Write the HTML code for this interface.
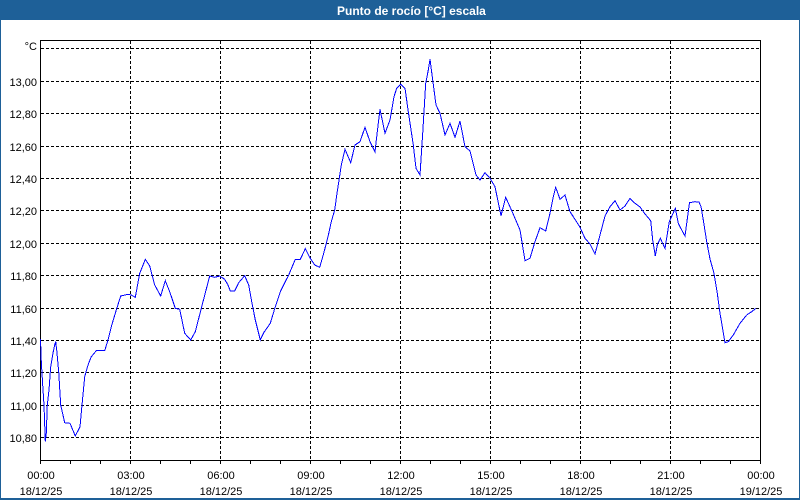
<!DOCTYPE html>
<html><head><meta charset="utf-8"><style>
html,body{margin:0;padding:0;background:#fff;}
svg{display:block;}
text{font-family:"Liberation Sans",sans-serif;font-size:11px;fill:#000;}
</style></head><body>
<svg width="800" height="500" viewBox="0 0 800 500" xmlns="http://www.w3.org/2000/svg">
<rect x="0" y="0" width="800" height="500" fill="#ffffff"/>
<rect x="0" y="0" width="800" height="20" fill="#1e6098"/>
<rect x="0" y="0" width="1" height="500" fill="#1e6098"/>
<rect x="799" y="0" width="1" height="500" fill="#1e6098"/>
<rect x="0" y="498" width="800" height="2" fill="#1e6098"/>
<text x="337" y="15" style="font-weight:bold;font-size:12px;fill:#fff">Punto de rocío [°C] escala</text>

<g stroke="#000" stroke-width="1" stroke-dasharray="3,2" fill="none" shape-rendering="crispEdges">
<line x1="41" y1="48.5" x2="760" y2="48.5"/>
<line x1="41" y1="81.5" x2="760" y2="81.5"/>
<line x1="41" y1="113.5" x2="760" y2="113.5"/>
<line x1="41" y1="146.5" x2="760" y2="146.5"/>
<line x1="41" y1="178.5" x2="760" y2="178.5"/>
<line x1="41" y1="210.5" x2="760" y2="210.5"/>
<line x1="41" y1="243.5" x2="760" y2="243.5"/>
<line x1="41" y1="275.5" x2="760" y2="275.5"/>
<line x1="41" y1="308.5" x2="760" y2="308.5"/>
<line x1="41" y1="340.5" x2="760" y2="340.5"/>
<line x1="41" y1="372.5" x2="760" y2="372.5"/>
<line x1="41" y1="405.5" x2="760" y2="405.5"/>
<line x1="41" y1="437.5" x2="760" y2="437.5"/>
<line x1="130.5" y1="41" x2="130.5" y2="460"/>
<line x1="220.5" y1="41" x2="220.5" y2="460"/>
<line x1="310.5" y1="41" x2="310.5" y2="460"/>
<line x1="400.5" y1="41" x2="400.5" y2="460"/>
<line x1="490.5" y1="41" x2="490.5" y2="460"/>
<line x1="580.5" y1="41" x2="580.5" y2="460"/>
<line x1="670.5" y1="41" x2="670.5" y2="460"/>
</g>

<g stroke="#000" stroke-width="1" fill="none" shape-rendering="crispEdges">
<path d="M40.5 40.5 H760.5 V460.5 H40.5 Z"/>
<path d="M40.5 460 v4 M70.5 460 v4 M100.5 460 v4 M130.5 460 v4 M160.5 460 v4 M190.5 460 v4 M220.5 460 v4 M250.5 460 v4 M280.5 460 v4 M310.5 460 v4 M340.5 460 v4 M370.5 460 v4 M400.5 460 v4 M430.5 460 v4 M460.5 460 v4 M490.5 460 v4 M520.5 460 v4 M550.5 460 v4 M580.5 460 v4 M610.5 460 v4 M640.5 460 v4 M670.5 460 v4 M700.5 460 v4 M730.5 460 v4 M760.5 460 v4"/>
</g>

<g text-anchor="end">
<text x="37" y="50">°C</text>
<text x="37" y="86">13,00</text>
<text x="37" y="118">12,80</text>
<text x="37" y="151">12,60</text>
<text x="37" y="183">12,40</text>
<text x="37" y="215">12,20</text>
<text x="37" y="248">12,00</text>
<text x="37" y="280">11,80</text>
<text x="37" y="313">11,60</text>
<text x="37" y="345">11,40</text>
<text x="37" y="377">11,20</text>
<text x="37" y="410">11,00</text>
<text x="37" y="442">10,80</text>
</g>

<g text-anchor="middle">
<text x="41" y="479">00:00</text><text x="41" y="495">18/12/25</text>
<text x="131" y="479">03:00</text><text x="131" y="495">18/12/25</text>
<text x="221" y="479">06:00</text><text x="221" y="495">18/12/25</text>
<text x="311" y="479">09:00</text><text x="311" y="495">18/12/25</text>
<text x="401" y="479">12:00</text><text x="401" y="495">18/12/25</text>
<text x="491" y="479">15:00</text><text x="491" y="495">18/12/25</text>
<text x="581" y="479">18:00</text><text x="581" y="495">18/12/25</text>
<text x="671" y="479">21:00</text><text x="671" y="495">18/12/25</text>
<text x="761" y="479">00:00</text><text x="761" y="495">19/12/25</text>
</g>

<polyline fill="none" stroke="#0000ff" stroke-width="1" shape-rendering="crispEdges" points="
40.5,339 41.3,361.7 42.7,385 44,405 45.3,441.7 46.3,433 47.3,405 49,390 50.7,366.7 53,353 54.7,345 55.7,341.7 56.7,350 58.7,371.7 60.7,405 64.7,422.7 70,423.3 75.3,436 80,426.7 82,405 84.7,376.7 88,365 91.3,356.7 96.3,350.7 104.7,350.7 108,340 111.3,326.7 116.3,310 120.7,296 128,294.3 131.3,295 135.3,297.3 139.7,273.3 145.3,259.3 149.7,266 154.7,285 160.7,296 165.3,280.7 169.7,291.7 175.3,308.3 179.7,309.3 184.7,333.3 190.7,340 195.3,331.7 201.3,308.3 209.7,276 214.7,277.3 219.7,276 224.7,279.3 228,285 230.3,291 234.7,291 238.7,282.7 244.7,275.7 248.7,285 252,303.3 255.3,320 260.3,340 263.7,332.7 270.3,323.3 275.3,306.7 280.3,291.7 288.7,275 295.3,259.3 300.3,259.3 305.3,248.7 309.3,256.7 314.7,265 319.7,267.3 323.7,253.3 328,236.7 331.3,221.7 334.7,210 337,193.3 339.3,178.3 341.3,165 345,149.3 350.7,162.7 355,145 360,141.7 365,127.3 370,141.7 375,151.7 377.3,131.7 380,109.3 385,133.3 390,120 394,96.7 396.7,88.3 400.7,84.3 405,88.3 408.3,111.7 413.3,145 416,168.3 420,175 422.7,133.3 425.7,83.3 428.3,70 430,59.3 432.7,80 436,105 440,113.3 445,135 450,123.3 455,137.3 460,121 465,146.7 470,151 476,175 480,180 485,172.7 490,178.3 495,186.7 501,215.7 505.7,197.3 511.7,210.7 520,230 525,260.7 530,258.3 535,241.7 540,227.7 545.7,231 550,213.3 553.3,196.7 555.7,187.3 560,199.3 565,195 570,211.7 575,219.3 580,227.3 585,238.3 590,244 595,254 600,235 605,216 610,206.7 615,200.7 620,210 625,206 630,198.3 635,203.3 640,207 645,214 650.7,220.7 652.7,240 655.3,256 657.3,245 660.3,238.3 665,248.3 669.3,221.7 675.3,208.3 678.3,223.3 681.7,230 685,236 689.5,202.7 695,201.7 699,202 701,206.7 703.3,220 706.7,241.7 710,259 714,273.3 717.3,293.3 720,313.3 725,342.7 728.3,341.7 733.3,335 740,323.3 746.7,315 751.7,311.7 756,308.3"/>
</svg>
</body></html>
